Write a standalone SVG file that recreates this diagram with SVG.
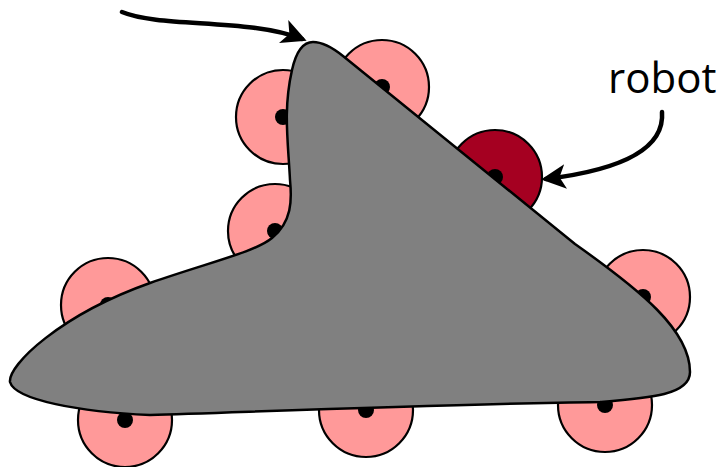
<svg xmlns="http://www.w3.org/2000/svg" width="720" height="467" viewBox="0 0 720 467">
<style>
.r{fill:#ff9999;stroke:#000;stroke-width:2.2}
.rd{fill:#a50021;stroke:#000;stroke-width:2.2}
.d{fill:#000}
.obj{fill:#808080;stroke:#000;stroke-width:2.5;stroke-linejoin:round}
.c{fill:none;stroke:#000;stroke-width:4.5;stroke-linecap:round}
.lbl{font-family:"Open Sans","Liberation Sans",sans-serif;font-size:42px;fill:#000}
</style>
<defs>
<marker id="ah" viewBox="0 0 10 10" refX="8" refY="5" markerWidth="5.5" markerHeight="5.5" orient="auto" markerUnits="strokeWidth">
<path d="M0,0 L10,5 L0,10 L2.5,5 Z" fill="#000"/>
</marker>
</defs>
<g id="robot1"><circle class="r" cx="125" cy="420" r="47"/><circle class="d" cx="125" cy="420" r="8"/></g>
<g id="robot2"><circle class="r" cx="366" cy="410" r="47"/><circle class="d" cx="366" cy="410" r="8"/></g>
<g id="robot3"><circle class="r" cx="605" cy="405" r="47"/><circle class="d" cx="605" cy="405" r="8"/></g>
<g id="robot4"><circle class="r" cx="643" cy="297" r="47"/><circle class="d" cx="643" cy="297" r="8"/></g>
<g id="robot5"><circle class="r" cx="108" cy="305" r="47"/><circle class="d" cx="108" cy="305" r="8"/></g>
<g id="robot6"><circle class="r" cx="275" cy="231" r="47"/><circle class="d" cx="275" cy="231" r="8"/></g>
<g id="robot7"><circle class="r" cx="283" cy="117" r="47"/><circle class="d" cx="283" cy="117" r="8"/></g>
<g id="robot8"><circle class="r" cx="382" cy="87" r="47"/><circle class="d" cx="382" cy="87" r="8"/></g>
<g id="robot9"><circle class="rd" cx="495" cy="177" r="47"/><circle class="d" cx="495" cy="177" r="8"/></g>
<g id="object">
<path class="obj" d="M313,42 C322,42 333,48 343,56 L575,244 C640,290 690,330 690,372 C690,395 650,398 600,402 C450,404 250,412 150,415 C80,412 15,400 10,382 C8,365 60,315 150,283 C210,262 255,252 272,238 C292,222 292,200 290,180 C288,140 283,110 292,70 C296,52 303,42 313,42 Z"/>
</g>
<g id="label"><text class="lbl" x="608" y="93">robot</text></g>
<g id="connectors">
<path class="c" d="M122,12 C160,28 250,18 302,39" marker-end="url(#ah)"/>
<path class="c" d="M662,112 C665,150 620,170 546,179" marker-end="url(#ah)"/>
</g>
</svg>
